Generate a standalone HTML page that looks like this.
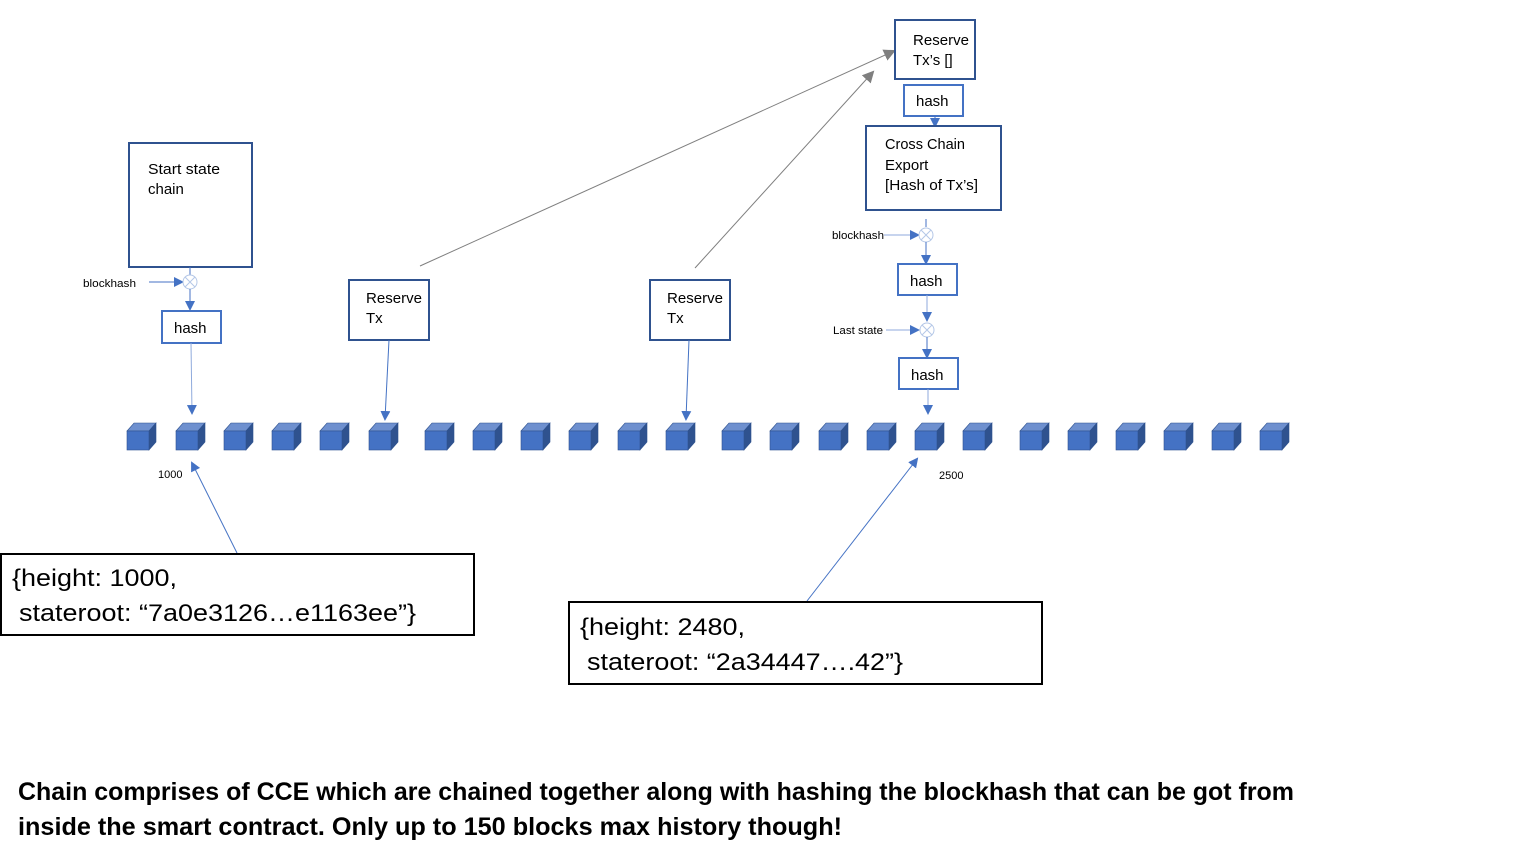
<!DOCTYPE html>
<html><head><meta charset="utf-8"><style>
html,body{margin:0;padding:0;background:#fff;}
svg{display:block;}
text{font-family:"Liberation Sans",sans-serif;}
</style></head><body>
<svg width="1540" height="865" viewBox="0 0 1540 865" xmlns="http://www.w3.org/2000/svg">
<defs>
<marker id="b" markerWidth="10" markerHeight="10" refX="8" refY="5" orient="auto" markerUnits="userSpaceOnUse"><path d="M0,0 L10,5 L0,10 z" fill="#4472c4"/></marker>
<marker id="g" markerWidth="12" markerHeight="12" refX="10" refY="6" orient="auto" markerUnits="userSpaceOnUse"><path d="M0,0 L12,6 L0,12 z" fill="#7f7f7f"/></marker>
<g id="cube">
<path d="M0,8 L7,0 L29,0 L22,8 z" fill="#6e90cf" stroke="#2f528f" stroke-width="0.6"/>
<path d="M22,8 L29,0 L29,19 L22,27 z" fill="#2f528f" stroke="#2f528f" stroke-width="0.6"/>
<rect x="0" y="8" width="22" height="19" fill="#4472c4" stroke="#2f528f" stroke-width="0.6"/>
</g>
<g id="xc"><circle r="7" fill="#fff" stroke="#b4c7e7"/><path d="M-5,-5 L5,5 M5,-5 L-5,5" stroke="#b4c7e7"/></g>
</defs>

<g>
<use href="#cube" x="127" y="423"/><use href="#cube" x="176" y="423"/><use href="#cube" x="224" y="423"/><use href="#cube" x="272" y="423"/><use href="#cube" x="320" y="423"/><use href="#cube" x="369" y="423"/><use href="#cube" x="425" y="423"/><use href="#cube" x="473" y="423"/><use href="#cube" x="521" y="423"/><use href="#cube" x="569" y="423"/><use href="#cube" x="618" y="423"/><use href="#cube" x="666" y="423"/><use href="#cube" x="722" y="423"/><use href="#cube" x="770" y="423"/><use href="#cube" x="819" y="423"/><use href="#cube" x="867" y="423"/><use href="#cube" x="915" y="423"/><use href="#cube" x="963" y="423"/><use href="#cube" x="1020" y="423"/><use href="#cube" x="1068" y="423"/><use href="#cube" x="1116" y="423"/><use href="#cube" x="1164" y="423"/><use href="#cube" x="1212" y="423"/><use href="#cube" x="1260" y="423"/>
</g>

<rect x="129" y="143" width="123" height="124" fill="#fff" stroke="#2f528f" stroke-width="2"/>
<text x="148" y="174" font-size="15" textLength="72" lengthAdjust="spacingAndGlyphs">Start state</text>
<text x="148" y="194" font-size="15">chain</text>
<line x1="190" y1="267" x2="190" y2="275" stroke="#4472c4"/>
<text x="83" y="287" font-size="11" textLength="53" lengthAdjust="spacingAndGlyphs">blockhash</text>
<line x1="149" y1="282" x2="182" y2="282" stroke="#4472c4" marker-end="url(#b)"/>
<use href="#xc" x="190" y="282"/>
<line x1="190" y1="289" x2="190" y2="309" stroke="#4472c4" marker-end="url(#b)"/>
<rect x="162" y="311" width="59" height="32" fill="#fff" stroke="#4472c4" stroke-width="2"/>
<text x="174" y="333" font-size="15">hash</text>
<line x1="191" y1="343" x2="192" y2="413" stroke="#8faadc" marker-end="url(#b)"/>

<rect x="349" y="280" width="80" height="60" fill="#fff" stroke="#2f528f" stroke-width="2"/>
<text x="366" y="303" font-size="15" textLength="56" lengthAdjust="spacingAndGlyphs">Reserve</text>
<text x="366" y="323" font-size="15">Tx</text>
<line x1="389" y1="340" x2="385" y2="419" stroke="#4472c4" marker-end="url(#b)"/>
<line x1="420" y1="266" x2="894" y2="51" stroke="#7f7f7f" marker-end="url(#g)"/>

<rect x="650" y="280" width="80" height="60" fill="#fff" stroke="#2f528f" stroke-width="2"/>
<text x="667" y="303" font-size="15" textLength="56" lengthAdjust="spacingAndGlyphs">Reserve</text>
<text x="667" y="323" font-size="15">Tx</text>
<line x1="689" y1="340" x2="686" y2="419" stroke="#4472c4" marker-end="url(#b)"/>
<line x1="695" y1="268" x2="873" y2="72" stroke="#7f7f7f" marker-end="url(#g)"/>

<rect x="895" y="20" width="80" height="59" fill="#fff" stroke="#2f528f" stroke-width="2"/>
<text x="913" y="45" font-size="15" textLength="56" lengthAdjust="spacingAndGlyphs">Reserve</text>
<text x="913" y="65" font-size="15">Tx’s []</text>
<rect x="904" y="85" width="59" height="31" fill="#fff" stroke="#4472c4" stroke-width="2"/>
<text x="916" y="106" font-size="15">hash</text>
<line x1="935" y1="116" x2="935" y2="126" stroke="#4472c4" marker-end="url(#b)"/>
<rect x="866" y="126" width="135" height="84" fill="#fff" stroke="#2f528f" stroke-width="2"/>
<text x="885" y="149" font-size="15" textLength="80" lengthAdjust="spacingAndGlyphs">Cross Chain</text>
<text x="885" y="170" font-size="15">Export</text>
<text x="885" y="190" font-size="15" textLength="93" lengthAdjust="spacingAndGlyphs">[Hash of Tx’s]</text>
<line x1="926" y1="219" x2="926" y2="227" stroke="#4472c4"/>
<text x="832" y="239" font-size="11" textLength="52" lengthAdjust="spacingAndGlyphs">blockhash</text>
<line x1="884" y1="235" x2="918" y2="235" stroke="#8faadc" marker-end="url(#b)"/>
<use href="#xc" x="926" y="235"/>
<line x1="926" y1="242" x2="926" y2="263" stroke="#4472c4" marker-end="url(#b)"/>
<rect x="898" y="264" width="59" height="31" fill="#fff" stroke="#4472c4" stroke-width="2"/>
<text x="910" y="286" font-size="15">hash</text>
<line x1="927" y1="295" x2="927" y2="320" stroke="#8faadc" marker-end="url(#b)"/>
<text x="833" y="334" font-size="11" textLength="50" lengthAdjust="spacingAndGlyphs">Last state</text>
<line x1="886" y1="330" x2="918" y2="330" stroke="#8faadc" marker-end="url(#b)"/>
<use href="#xc" x="927" y="330"/>
<line x1="927" y1="337" x2="927" y2="357" stroke="#4472c4" marker-end="url(#b)"/>
<rect x="899" y="358" width="59" height="31" fill="#fff" stroke="#4472c4" stroke-width="2"/>
<text x="911" y="380" font-size="15">hash</text>
<line x1="928" y1="389" x2="928" y2="413" stroke="#8faadc" marker-end="url(#b)"/>

<text x="158" y="478" font-size="11">1000</text>
<text x="939" y="479" font-size="11">2500</text>
<line x1="237" y1="553" x2="192" y2="463" stroke="#4472c4" marker-end="url(#b)"/>
<line x1="807" y1="601" x2="917" y2="459" stroke="#4472c4" marker-end="url(#b)"/>

<rect x="1" y="554" width="473" height="81" fill="#fff" stroke="#000" stroke-width="2"/>
<text x="12" y="586" font-size="24" textLength="165" lengthAdjust="spacingAndGlyphs">{height: 1000,</text>
<text x="19" y="621" font-size="24" textLength="397" lengthAdjust="spacingAndGlyphs">stateroot: “7a0e3126…e1163ee”}</text>
<rect x="569" y="602" width="473" height="82" fill="#fff" stroke="#000" stroke-width="2"/>
<text x="580" y="635" font-size="24" textLength="165" lengthAdjust="spacingAndGlyphs">{height: 2480,</text>
<text x="587" y="670" font-size="24" textLength="316" lengthAdjust="spacingAndGlyphs">stateroot: “2a34447….42”}</text>

<text x="18" y="800" font-size="25" font-weight="bold" textLength="1276" lengthAdjust="spacingAndGlyphs">Chain comprises of CCE which are chained together along with hashing the blockhash that can be got from</text>
<text x="18" y="835" font-size="25" font-weight="bold" textLength="824" lengthAdjust="spacingAndGlyphs">inside the smart contract. Only up to 150 blocks max history though!</text>
</svg>
</body></html>
